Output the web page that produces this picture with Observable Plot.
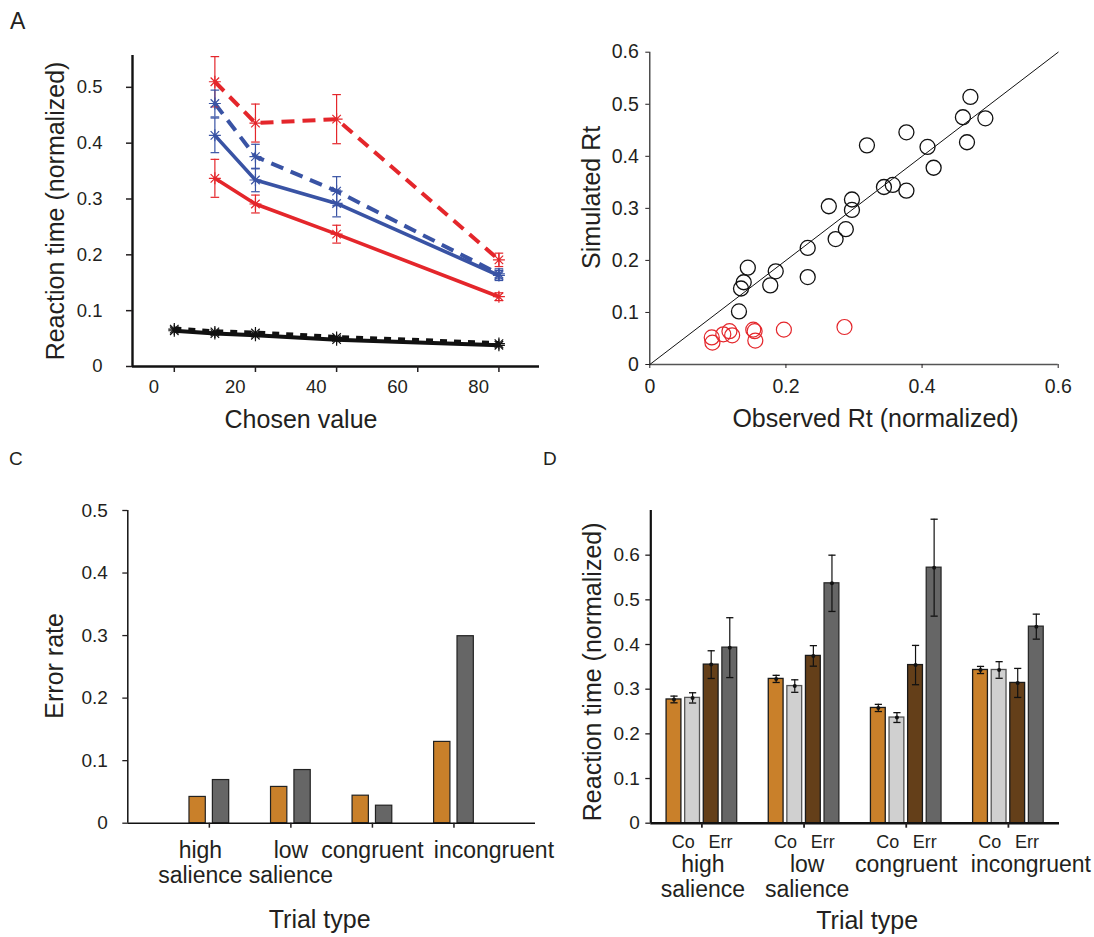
<!DOCTYPE html>
<html>
<head>
<meta charset="utf-8">
<script src="https://cdn.jsdelivr.net/npm/d3@7"></script>
<script src="https://cdn.jsdelivr.net/npm/@observablehq/plot@0.6"></script>
<style>
  html, body { margin: 0; padding: 0; background: #fff; }
  #figure { position: relative; width: 1094px; height: 937px; overflow: hidden;
            font-family: "Liberation Sans", Arial, sans-serif; color: #231f20; }
  .letter { position: absolute; line-height: 1; }
</style>
</head>
<body>
<div id="figure">
  <div class="letter" style="left:10px;top:10px;font-size:23px">A</div>
  <div class="letter" style="left:9px;top:449px;font-size:19px">C</div>
  <div class="letter" style="left:543px;top:449px;font-size:19px">D</div>
</div>
<script>
// ---------- Panel A: reaction time vs chosen value ----------
const chosenValueAll = [5, 15, 25, 45, 85];
const chosenValue = [15, 25, 45, 85];
const chosenTickMarks = [5, 25, 45, 65, 85];
const chosenTickLabels = [0, 20, 40, 60, 80];
const rtTicksA = [0, 0.1, 0.2, 0.3, 0.4, 0.5];

const rtBlackSolid = [0.064, 0.059, 0.056, 0.048, 0.038];
const rtBlackDashed = [0.067, 0.062, 0.060, 0.052, 0.041];
const rtRedSolid = [0.337, 0.291, 0.237, 0.125];
const semRedSolid = [0.034, 0.016, 0.016, 0.007];
const rtRedDashed = [0.510, 0.436, 0.443, 0.191];
const semRedDashed = [0.045, 0.034, 0.044, 0.012];
const rtBlueSolid = [0.414, 0.334, 0.292, 0.163];
const semBlueSolid = [0.031, 0.021, 0.024, 0.009];
const rtBlueDashed = [0.471, 0.376, 0.314, 0.166];
const semBlueDashed = [0.024, 0.022, 0.026, 0.009];

// ---------- Panel B: simulated vs observed RT ----------
const observedRt = [0.471, 0.460, 0.493, 0.466, 0.408, 0.417, 0.377, 0.319, 0.344, 0.357, 0.377, 0.297,
                    0.297, 0.263, 0.288, 0.273, 0.232, 0.232, 0.185, 0.177, 0.144, 0.138, 0.134, 0.131];
const simulatedRt = [0.514, 0.475, 0.473, 0.427, 0.418, 0.378, 0.446, 0.421, 0.341, 0.345, 0.334, 0.317,
                     0.297, 0.304, 0.260, 0.241, 0.224, 0.168, 0.179, 0.152, 0.186, 0.158, 0.146, 0.102];
const observedRtOff = [0.091, 0.092, 0.108, 0.117, 0.121, 0.152, 0.154, 0.155, 0.197, 0.286];
const simulatedRtOff = [0.052, 0.042, 0.058, 0.064, 0.056, 0.067, 0.064, 0.046, 0.067, 0.072];
const rtTicksB = [0, 0.1, 0.2, 0.3, 0.4, 0.5, 0.6];
const obsTicksB = [0, 0.2, 0.4, 0.6];

// ---------- Panels C and D: trial types ----------
const trialTypes = ["high\nsalience", "low\nsalience", "congruent", "incongruent"];
const errorRateObserved = [0.042, 0.058, 0.044, 0.130];
const errorRateModel = [0.069, 0.085, 0.028, 0.299];
const errorTicks = [0, 0.1, 0.2, 0.3, 0.4, 0.5];

const outcomeLabels = ["Co", "Err"];
const rtCorrectObserved = [0.277, 0.323, 0.258, 0.343];
const semCorrectObserved = [0.0075, 0.008, 0.008, 0.008];
const rtCorrectModel = [0.2805, 0.307, 0.2365, 0.343];
const semCorrectModel = [0.0115, 0.014, 0.011, 0.0186];
const rtErrorObserved = [0.355, 0.3745, 0.354, 0.314];
const semErrorObserved = [0.031, 0.023, 0.044, 0.0325];
const rtErrorModel = [0.393, 0.537, 0.572, 0.440];
const semErrorModel = [0.067, 0.063, 0.1085, 0.028];
const rtTicksD = [0, 0.1, 0.2, 0.3, 0.4, 0.5, 0.6];

// ---------- shared styling ----------
const FONT = '"Liberation Sans", Arial, sans-serif';
const INK = "#231f20";
const RED = "#e4262b";
const BLUE = "#3953a4";
const ORANGE = "#c9802a";
const LIGHTGRAY = "#d0d0d0";
const BROWN = "#643f19";
const DARKGRAY = "#666666";
const fmt = d => d === 0 ? "0" : d3.format(".1f")(d);
const baseStyle = {fontFamily: FONT, color: INK, background: "transparent", overflow: "visible"};

// horizontal bar used as error-bar cap
const capSymbol = {
  draw(context, size) {
    const w = Math.sqrt(size / Math.PI);
    context.moveTo(-w, 0);
    context.lineTo(w, 0);
  }
};
// eight-spoke star marker
const starSymbol = {
  draw(context, size) {
    const r = Math.sqrt(size / Math.PI);
    for (let k = 0; k < 4; ++k) {
      const a = k * Math.PI / 4;
      context.moveTo(-r * Math.cos(a), -r * Math.sin(a));
      context.lineTo(r * Math.cos(a), r * Math.sin(a));
    }
  }
};

// rotated y-axis title, centred on the frame
const yTitle = (label, dx, dy = 0) =>
  Plot.text([label], {text: d => d, frameAnchor: "left", rotate: -90, textAnchor: "middle",
    lineAnchor: "bottom", dx, dy, fontSize: 25, fill: INK});
// x-axis title below the frame
const xTitle = (label, dx, dy) =>
  Plot.text([label], {text: d => d, frameAnchor: "bottom", textAnchor: "middle",
    lineAnchor: "bottom", dx, dy, fontSize: 25, fill: INK});

const figure = document.getElementById("figure");
function place(svg, left, top) {
  svg.style.position = "absolute";
  svg.style.left = left + "px";
  svg.style.top = top + "px";
  figure.appendChild(svg);
}

// ---------- Panel A ----------
{
  const rows = (xs, ys, es) => xs.map((x, i) => ({x, y: ys[i], e: es ? es[i] : 0}));
  const series = [
    {rows: rows(chosenValueAll, rtBlackSolid), color: "#111", width: 4, dash: null, err: false},
    {rows: rows(chosenValueAll, rtBlackDashed), color: "#111", width: 5, dash: "7,7", err: false},
    {rows: rows(chosenValue, rtRedDashed, semRedDashed), color: RED, width: 4, dash: "13,8", err: true},
    {rows: rows(chosenValue, rtBlueDashed, semBlueDashed), color: BLUE, width: 4, dash: "13,8", err: true},
    {rows: rows(chosenValue, rtBlueSolid, semBlueSolid), color: BLUE, width: 3.6, dash: null, err: true},
    {rows: rows(chosenValue, rtRedSolid, semRedSolid), color: RED, width: 3.6, dash: null, err: true}
  ];
  const xDomain = [-5.3, 95];
  const marks = [
    Plot.ruleY([0], {stroke: "#111", strokeWidth: 2.4}),
    Plot.ruleX([xDomain[0]], {stroke: "#111", strokeWidth: 2.4}),
    Plot.axisY(rtTicksA, {tickSize: 6, tickPadding: 24, tickFormat: fmt, fontSize: 18.5, strokeWidth: 1.5, label: null}),
    Plot.axisX(chosenTickMarks, {tickSize: 6, tickFormat: () => "", strokeWidth: 1.5, label: null}),
    Plot.axisX(chosenTickLabels, {tickSize: 0, tickPadding: 13, fontSize: 18.5, label: null})
  ];
  for (const s of series) {
    marks.push(Plot.line(s.rows, {x: "x", y: "y", stroke: s.color, strokeWidth: s.width,
      strokeDasharray: s.dash, strokeLinecap: "butt", strokeLinejoin: "round"}));
  }
  for (const s of series) {
    if (s.err) {
      marks.push(Plot.ruleX(s.rows, {x: "x", y1: d => d.y - d.e, y2: d => d.y + d.e, stroke: s.color, strokeWidth: 1.2}));
      marks.push(Plot.dot(s.rows, {x: "x", y: d => d.y + d.e, symbol: capSymbol, r: 4.3, stroke: s.color, strokeWidth: 1.2}));
      marks.push(Plot.dot(s.rows, {x: "x", y: d => d.y - d.e, symbol: capSymbol, r: 4.3, stroke: s.color, strokeWidth: 1.2}));
    }
    marks.push(Plot.dot(s.rows, {x: "x", y: "y", symbol: starSymbol, r: 6, stroke: s.color, strokeWidth: 1.2}));
  }
  marks.push(xTitle("Chosen value", -35, 61));
  marks.push(yTitle("Reaction time (normalized)", -69));

  place(Plot.plot({
    width: 560, height: 440,
    marginLeft: 132, marginRight: 21, marginTop: 55, marginBottom: 74,
    x: {domain: xDomain},
    y: {domain: [0, 0.557]},
    style: baseStyle,
    marks
  }), 0, 0);
}

// ---------- Panel B ----------
{
  const fit = observedRt.map((o, i) => ({o, s: simulatedRt[i]}));
  const off = observedRtOff.map((o, i) => ({o, s: simulatedRtOff[i]}));
  const diag = [0, 0.6];
  place(Plot.plot({
    width: 534, height: 440,
    marginLeft: 89.3, marginRight: 36.3, marginTop: 51.7, marginBottom: 76,
    x: {domain: [0, 0.6]},
    y: {domain: [0, 0.6]},
    style: baseStyle,
    marks: [
      Plot.ruleY([0], {stroke: "#555", strokeWidth: 1.6}),
      Plot.ruleX([0], {stroke: "#222", strokeWidth: 1.2}),
      Plot.axisY(rtTicksB, {tickSize: 4, tickPadding: 7, tickFormat: fmt, fontSize: 19.5, label: null}),
      Plot.axisX(obsTicksB, {tickSize: 4, tickPadding: 11, tickFormat: fmt, fontSize: 19.5, label: null}),
      Plot.line(diag, {x: d => d, y: d => d, stroke: "#111", strokeWidth: 1}),
      Plot.dot(fit, {x: "o", y: "s", r: 7.5, stroke: "#111", strokeWidth: 1.3, fill: "none"}),
      Plot.dot(off, {x: "o", y: "s", r: 7.5, stroke: RED, strokeWidth: 1.2, fill: "none"}),
      yTitle("Simulated Rt", -50, -11),
      xTitle("Observed Rt (normalized)", 21.5, 62.7)
    ]
  }), 560, 0);
}

// ---------- Panel C ----------
{
  const barWidth = 0.2, pairOffset = 0.1435;
  const bars = [
    ...errorRateObserved.map((v, i) => ({i, v, k: -1, fill: ORANGE})),
    ...errorRateModel.map((v, i) => ({i, v, k: 1, fill: DARKGRAY}))
  ];
  const labelShift = [-0.11, 0, 0, 0.49];
  place(Plot.plot({
    width: 560, height: 497,
    marginLeft: 127.3, marginRight: 25, marginTop: 70, marginBottom: 114.3,
    x: {domain: [-1, 4]},
    y: {domain: [0, 0.5]},
    style: baseStyle,
    marks: [
      Plot.rect(bars, {
        x1: d => d.i + d.k * pairOffset - barWidth / 2,
        x2: d => d.i + d.k * pairOffset + barWidth / 2,
        y1: 0, y2: "v", fill: d => d.fill, stroke: "#222", strokeWidth: 1.2
      }),
      Plot.ruleY([0], {stroke: "#111", strokeWidth: 1.5}),
      Plot.ruleX([-1], {stroke: "#111", strokeWidth: 1.5}),
      Plot.axisY(errorTicks, {tickSize: 5, tickPadding: 15, tickFormat: fmt, fontSize: 19, strokeWidth: 1.3, label: null}),
      Plot.axisX(trialTypes.map((_, i) => i), {tickSize: 5, tickFormat: () => "", strokeWidth: 1.5, label: null}),
      Plot.text(trialTypes, {x: (d, i) => i + labelShift[i], text: d => d, frameAnchor: "bottom", lineAnchor: "top",
        dy: 17, fontSize: 23, lineHeight: 1.1, fill: INK}),
      xTitle("Trial type", -12, 105),
      yTitle("Error rate", -65, -1)
    ]
  }), 0, 440);
}

// ---------- Panel D ----------
{
  const barStep = 0.182, barWidth = 0.145;
  const groups = [
    {v: rtCorrectObserved, e: semCorrectObserved, fill: ORANGE, stroke: "#1a1a1a"},
    {v: rtCorrectModel, e: semCorrectModel, fill: LIGHTGRAY, stroke: "#555"},
    {v: rtErrorObserved, e: semErrorObserved, fill: BROWN, stroke: "#1a1a1a"},
    {v: rtErrorModel, e: semErrorModel, fill: DARKGRAY, stroke: "#2a2a2a"}
  ];
  const bars = groups.flatMap((g, k) => g.v.map((v, i) => ({
    i, k, v, e: g.e[i], fill: g.fill, stroke: g.stroke, c: i + (k - 1.5) * barStep
  })));
  const outcomes = trialTypes.flatMap((_, i) => outcomeLabels.map((t, j) => ({i, t, c: i + (j * 2 - 1) * barStep})));
  const labelShift = [0.01, 0.03, 0, 0.22];
  place(Plot.plot({
    width: 534, height: 497,
    marginLeft: 90.3, marginRight: 35, marginTop: 70, marginBottom: 114.3,
    x: {domain: [-0.5, 3.5]},
    y: {domain: [0, 0.7]},
    style: baseStyle,
    marks: [
      Plot.rect(bars, {
        x1: d => d.c - barWidth / 2, x2: d => d.c + barWidth / 2,
        y1: 0, y2: "v", fill: d => d.fill, stroke: d => d.stroke, strokeWidth: 1.3
      }),
      Plot.ruleX(bars, {x: "c", y1: d => d.v - d.e, y2: d => d.v + d.e, stroke: "#111", strokeWidth: 1.2}),
      Plot.dot(bars, {x: "c", y: d => d.v + d.e, symbol: capSymbol, r: 3.6, stroke: "#111", strokeWidth: 1.3}),
      Plot.dot(bars, {x: "c", y: d => d.v - d.e, symbol: capSymbol, r: 3.6, stroke: "#111", strokeWidth: 1.3}),
      Plot.dot(bars, {x: "c", y: "v", r: 2, fill: "#111"}),
      Plot.ruleY([0], {stroke: "#111", strokeWidth: 2.4}),
      Plot.ruleX([-0.5], {stroke: "#111", strokeWidth: 2.2}),
      Plot.axisY(rtTicksD, {tickSize: 5, tickPadding: 6, tickFormat: fmt, fontSize: 19, strokeWidth: 1.3, label: null}),
      Plot.axisX(trialTypes.map((_, i) => i), {tickSize: 5, tickFormat: () => "", strokeWidth: 1.8, label: null}),
      Plot.text(outcomes, {x: "c", text: "t", frameAnchor: "bottom", lineAnchor: "top", dy: 12, fontSize: 18, fill: INK}),
      Plot.text(trialTypes, {x: (d, i) => i + labelShift[i], text: d => d, frameAnchor: "bottom", lineAnchor: "top",
        dy: 31, fontSize: 23, lineHeight: 1.1, fill: INK}),
      xTitle("Trial type", 12, 106),
      yTitle("Reaction time (normalized)", -50, 5)
    ]
  }), 560, 440);
}
</script>
</body>
</html>
